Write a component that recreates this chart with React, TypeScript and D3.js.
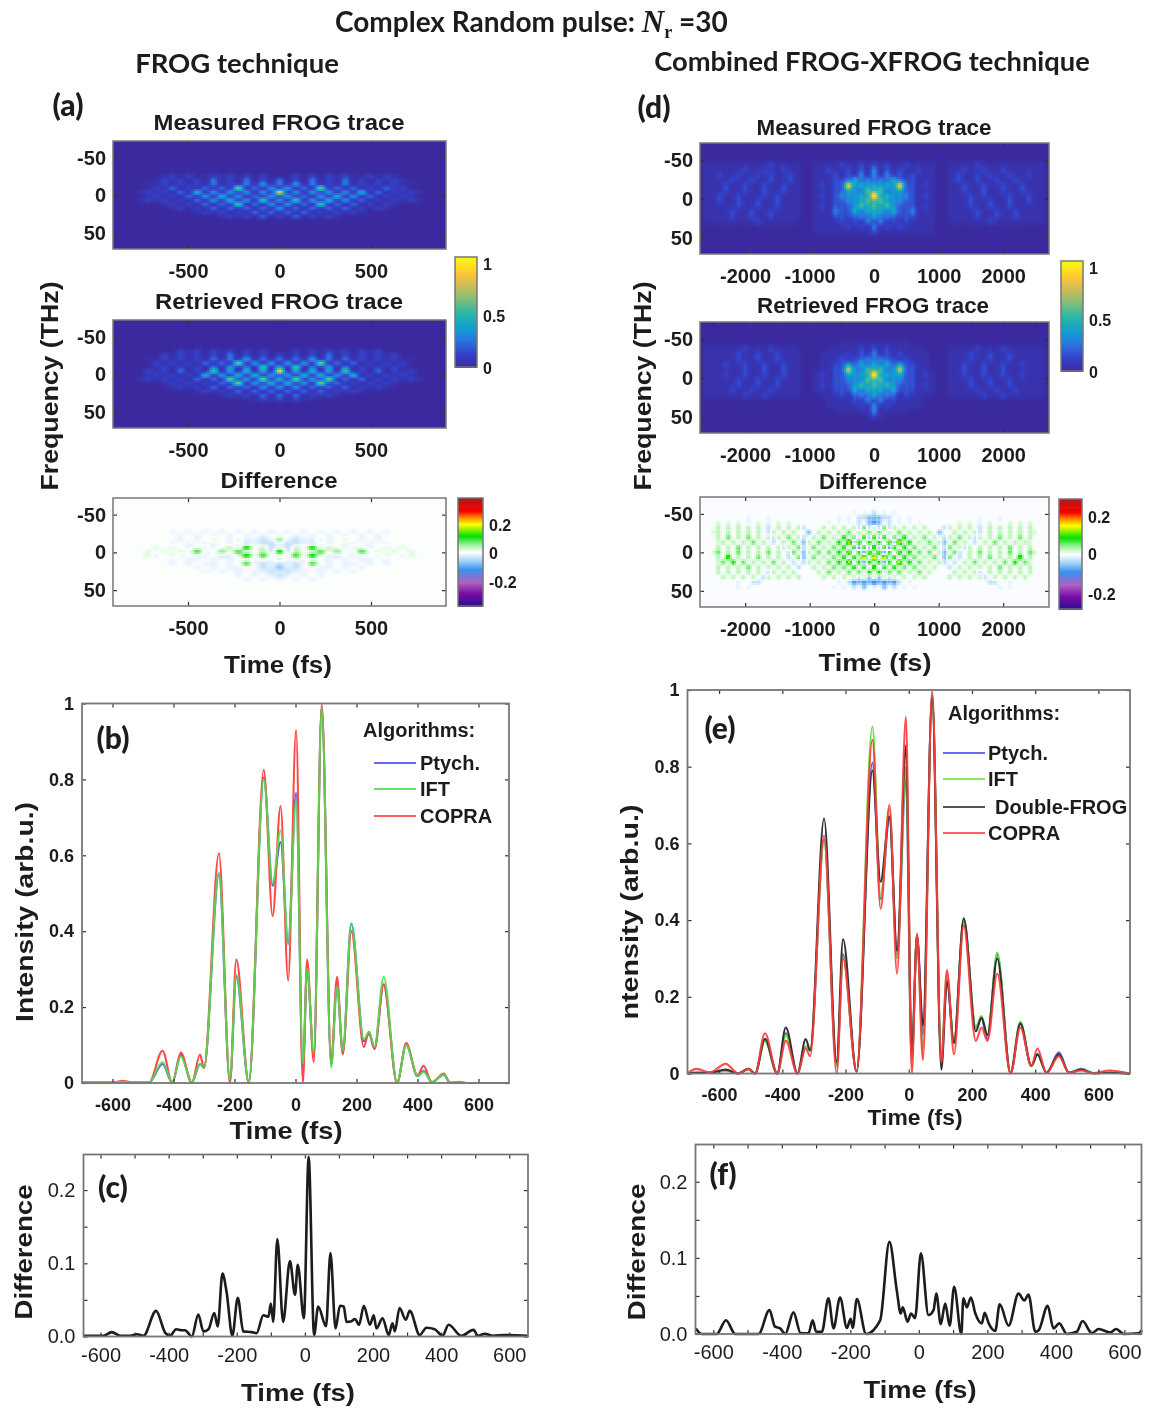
import React, { useEffect, useRef } from "react";
import * as d3 from "d3";

// pulse intensity, panel (b)
const bTimes = [-700,-600,-567,-530,-480,-436,-404,-376,-340,-313,-300,-251,-215,-194,-153,-104,-75,-49,-24,2,24,38,60,86,117,136,155,183,224,241,259,289,333,363,400,420,447,486,507,535,560,700];
const bPtych = [.001,.001,.002,.001,.001,.05,.001,.075,.001,.05,.04,.55,.005,.28,.001,.805,.52,.635,.37,.765,.03,.30,.07,.99,.05,.26,.08,.42,.11,.13,.09,.26,.001,.10,.018,.032,.002,.022,.001,.002,0,0];
const bIft = [.001,.001,.003,.001,.001,.055,.002,.07,.002,.05,.04,.555,.01,.285,.002,.80,.525,.665,.365,.745,.05,.30,.08,.99,.04,.255,.085,.42,.115,.135,.095,.28,.002,.10,.018,.03,.003,.022,.002,.002,0,0];
const bCopra = [.001,.001,.006,.001,.001,.085,0,.08,0,.075,.04,.605,0,.325,0,.825,.44,.73,.27,.93,0,.325,.055,1,.05,.28,.075,.40,.095,.135,.09,.26,0,.105,.02,.045,.002,.025,0,.003,0,0];

// pulse intensity, panel (e)
const eTimes = [-700,-671,-629,-579,-539,-507,-486,-455,-416,-389,-352,-326,-312,-268,-228,-208,-165,-115,-89,-61,-37,-9,9.5,26,45,74,103,121,143,174,212,230,249,280,322,353,388,407,436,475,507,546,583,636,700];
const ePtych = [.001,.002,.002,.008,0,.012,0,.09,0,.105,0,.07,.06,.61,.02,.31,.005,.81,.455,.665,.31,.77,.03,.36,.10,.99,.03,.245,.08,.40,.12,.145,.09,.31,.001,.13,.02,.05,.002,.055,.002,.012,.001,.002,0];
const eIft = [.001,.002,.002,.008,0,.012,0,.085,0,.10,0,.07,.06,.605,.02,.305,.005,.905,.46,.69,.30,.80,.03,.36,.06,.99,.04,.26,.08,.40,.12,.15,.10,.315,.001,.135,.02,.05,.002,.05,.002,.01,.001,.002,0];
const eDouble = [.001,.002,.002,.01,0,.012,0,.09,0,.12,0,.09,.06,.665,.03,.35,.005,.79,.50,.67,.32,.855,.05,.36,.125,.98,.01,.24,.08,.405,.11,.145,.10,.30,.001,.13,.02,.05,.002,.05,.002,.01,.001,.002,0];
const eCopra = [.001,.012,.003,.025,0,.012,0,.105,0,.085,0,.065,.045,.62,0,.30,.005,.87,.43,.70,.26,.93,0,.365,.035,1,.03,.27,.05,.385,.085,.12,.085,.26,0,.12,.02,.065,.002,.045,.002,.008,.001,.008,0];

// difference curves, panels (c) and (f)
const cTimes = [-650,-591,-567,-542,-513,-493,-474,-437,-410,-396,-378,-362,-352,-332,-313,-298,-283,-266,-256,-242,-230,-213,-197,-181,-156,-142,-122,-107,-100,-93,-81,-64,-44,-29,-21,-3,11,27,39,62,75,90,103,114,122,137,147,159,173,191,202,210,228,246,257,264,278,296,308,337,357,381,404,422,459,495,508,528,552,586,655];
const cDiff = [.001,.001,.006,.001,.001,.003,.001,.035,.005,.001,.010,.0086,.0086,0,.030,.007,.010,.032,.0136,.086,.061,.001,.053,.007,.006,.0045,.029,.027,.045,.020,.133,.020,.103,.057,.098,.025,.245,.002,.041,.014,.114,.011,.042,.041,.020,.021,.024,.016,.042,.016,.029,.011,.025,.002,.018,.007,.039,.023,.035,.002,.012,.010,.001,.016,.001,.009,.001,.0036,.001,.002,.001];
const fTimes = [-651,-634,-590,-563,-536,-468,-436,-420,-405,-390,-366,-345,-322,-310,-300,-283,-264,-249,-230,-210,-199,-193,-181,-154,-113,-86,-64,-53,-47,-33,-23,-11,6,28,43,51,64,77,90,103,124,130,140,152,165,184,192,204,223,236,262,291,308,320,340,350,376,393,410,432,461,478,505,525,559,576,598,642,651];
const fDiff = [.0074,0,0,.018,0,0,.0315,.0096,.0074,0,.0284,.001,.001,.018,.003,.003,.047,.0074,.048,.008,.020,.008,.046,0,.018,.121,.056,.027,.035,.016,.027,.021,.106,.025,.0315,.053,.013,.040,.011,.062,0,.047,.035,.048,.027,.014,.028,.014,.004,.039,.011,.053,.044,.052,.003,.005,.037,.0074,.014,0,.003,.017,.001,.0066,.002,.0066,0,.001,.005];

// FROG traces, one half in time (first char = t 0, mirrored), rows top to bottom
// '.' 0, ',' 0.025, digit n = n/10
const traceAMeasured = [
  "..1.1.1,1,.1.1,..",
  "2.1.2.1.2.1.1,1,.",
  "2,3,2,1,2,1,1,1.,",
  ".3.2.6.2.2.1.2,1.",
  "8.3.3.3.3.4.2.1,1,",
  ".3.2.3.4.3.2.1,1,",
  "3.5.3.4.3.2.1.1,1,",
  ".3.2.5.2.2.1.1,..",
  "3.2.2.2.2.1.1,...",
  ".2.2.1.1,1,......",
  "1.2.1,1,.........",
];
const traceARetrieved = [
  "..1.1.1,1.1,1....",
  "1.1.1.2.1.1,1,1..",
  "2,2,3,2,2,1,1,1.,",
  ".3.3.6.2.2.1.1,1.",
  "3.5.2.3.2.1,1,1,.",
  "8.3.4.3.5.1.2.1,1",
  ".3.4.4.3.4.1.1,1,",
  "4.6.3.6.2.2.1,1,1,",
  ".4.3.6.2.1.1,1,..",
  "3.3.2.2.2.1,1,...",
  ".2.2.2.1,1,......",
  "2.2.1,1,.........",
  "1,1,,............",
];
const traceDMeasured = [
  "1,1,,1,,,,.." + ",,,,1,,,,,,,,,,",
  "2,1,1,,1,,.." + ",,1,,1,,1,,,,,,",
  "2,2,1,1,,,.." + ",1,,1,1,,1,,1,,",
  "1213111,,,.." + ",1,,1,,1,,1,,,,",
  "3232711,1,.." + ",,1,,1,,1,,1,,,",
  "2412211,,,.." + ",,1,,1,,1,,1,,,",
  "8232221,1,.." + ",,,1,1,,,1,,1,,",
  "2422211,,,.." + ",,,1,,1,,1,,1,,",
  "4242111,1,.." + ",,,1,,1,,1,,,,,",
  "2313112,,,.." + ",,,,1,,1,,1,,,,",
  "3121111,,,.." + ",,,,1,,1,,1,,,,",
  ",2,1,1,,,,.." + ",,,,,,1,,,,,,,,",
  "2,1,1,,,,,..",
  "1,,,,,,,,,..",
];
const traceDRetrieved = [
  ",,,,,,......" + "...............",
  "1,1,,,,,...." + ",,,,1,,,1,,,,,,",
  "2,1,1,,,,..." + ",,,1,,1,,1,,,,,",
  "1211,1,,,..." + ",,,1,,1,,1,,,,,",
  "3131211,,..." + ",,1,,1,,1,,1,,,",
  "2412611,,..." + ",,1,,1,,1,,,,,,",
  "8232211,1,.." + ",,1,,1,,1,,1,,,",
  "2412211,,,.." + ",,,1,,1,,1,,,,,",
  "4242111,1,.." + ",,,1,,1,,1,,,,,",
  "2313111,,,.." + ",,,,1,,1,,1,,,,",
  "3121,1,,,..." + ",,,,,1,,1,,,,,,",
  ",2,1,,,,...." + "...............",
  "2,1,,,,,....",
  "2,,,,,......",
  "1,..........",
];

// difference maps: '.' 0, ',' 0.015, ';' -0.012, digit n = 0.03 n, a-e = -0.03 .. -0.15
const diffA = [
  ".;.;.;.;.;.;.;...",
  ";.;.;.;.;.;.;....",
  "2;a;;,;.,.;.;....",
  ";aa;a.;.;;.;.;...",
  ";a1.4a1.;,.;.,.,",
  "4a1.;3.2.;3.,.,.,",
  ";.3.4.;a.;;.;,.;,",
  "1;.;;.;.;.;;.;...",
  "a;a;3.;.;;.;.;...",
  "b;a.;;;.;.;......",
  ";a;;.;.;.;.......",
  "a;.;.;...........",
  ";.;.;............",
];
const diffD = [
  "a.;.;.........." + "....................",
  "bbaa.;.;......." + "......;...;.........",
  "cb.a.;.;.;....." + "..,.,.;.,.;.,.,.,...",
  "1a2a1.1.1.1...a" + "1.1.1.a.1.1.1.1.1...",
  ".2.1.2.1.1.1.b." + ".1.1.1a.1.1.1.1.1,..",
  "3b3a2.3.1.2.1.a" + "1.2.1a1.1.2.1.2.1...",
  ".3a4b6.3.1.2.1b" + ".2.1.a.1.2.1.1.1,..",
  "4b3c3a3.2.1.2.a" + "2.1a1.1.1.1.2.1.1...",
  ".4c3a4.3.2.2.1b" + ".2a.1.2.1.1.2.1.2,..",
  "6a6.3a3.2.1.2.b" + "2.a.1.1.2.1.1.4.1...",
  ".3c3a5.3.2.1.1a" + ".a.1.2.1.1.2.3.2,..",
  "4a3.3.2.2.1.1.." + "a.1.1.1.1.2.1.1.1...",
  ".3a2.2.1.2.1..." + ".1.1.1a.1.1.1.1.1...",
  "1b1a1.1;1.1...." + "1.1.1.1a.1.1.1.1....",
  "dbcbca.;......." + "........aa..;.......",
  ";.b.a.;.;......" + "..........;.;.......",
];

const parulaStops = [0, .12, .25, .36, .5, .63, .75, .86, 1];
const parulaColors = ["#3a2b9f", "#3340c8", "#2a78e0", "#0f9fd0", "#2eb7a4", "#87bf77", "#d1bb59", "#fec832", "#f9fb0e"];
const diffStops = [0, .12, .22, .34, .42, .5, .57, .65, .76, .82, .88, 1];
const diffColors = ["#2b0a8f", "#7a10a8", "#b060c0", "#3a90f0", "#a0d0fa", "#ffffff", "#a0f0a0", "#00e000", "#ffff00", "#ff9000", "#ff0000", "#b01818"];

const FRAME = "#777777";
const INK = "#1c1c1c";
const SANS = "'Liberation Sans', Arial, sans-serif";
const LATO = "Lato, sans-serif";

const traceChar = (c: string) => (c === "." ? 0 : c === "," ? 0.025 : +c / 10);
const diffChar = (c: string) => {
  if (c === ".") return 0;
  if (c === ",") return 0.015;
  if (c === ";") return -0.012;
  if (c >= "a") return -0.03 * (c.charCodeAt(0) - 96);
  return 0.03 * +c;
};

function addText(svg, x, y, str, opts: any = {}) {
  const { size = 20, weight = "bold", anchor = "middle", family = SANS, rotate = 0, fill = INK, length = 0 } = opts;
  const t = svg.append("text")
    .attr("transform", `translate(${x},${y}) rotate(${rotate})`)
    .attr("dy", "0.35em")
    .attr("text-anchor", anchor)
    .attr("font-family", family)
    .attr("font-size", size)
    .attr("font-weight", weight)
    .attr("fill", fill)
    .text(str);
  if (length) t.attr("textLength", length).attr("lengthAdjust", "spacingAndGlyphs");
  return t;
}

function drawAxes(svg, x, y, xTicks, yTicks, o) {
  const [x0, x1] = x.range();
  const y0 = d3.min(y.range()) as number;
  const y1 = d3.max(y.range()) as number;
  const size = o.size ?? 20;
  const weight = o.weight ?? "bold";
  const fill = o.fill ?? INK;
  const xLabel = o.xLabel ?? ((d) => String(d));
  const yLabel = o.yLabel ?? ((d) => String(d));
  const style = (g) => {
    g.select(".domain").remove();
    g.selectAll("line").attr("stroke", "#333").attr("stroke-width", 1.2);
    g.selectAll("text").attr("font-family", SANS).attr("font-size", size).attr("font-weight", weight).attr("fill", fill);
  };
  svg.append("g").attr("transform", `translate(0,${y1})`)
    .call(d3.axisBottom(x).tickValues(xTicks).tickSizeInner(-4).tickSizeOuter(0).tickPadding(o.xPad).tickFormat(xLabel))
    .call(style);
  svg.append("g").attr("transform", `translate(0,${y0})`)
    .call(d3.axisTop(x).tickValues(o.xTopTicks ?? xTicks).tickSizeInner(-4).tickSizeOuter(0).tickFormat(() => ""))
    .call(style);
  svg.append("g").attr("transform", `translate(${x0},0)`)
    .call(d3.axisLeft(y).tickValues(yTicks).tickSizeInner(-4).tickSizeOuter(0).tickPadding(o.yPad).tickFormat(yLabel))
    .call(style);
  svg.append("g").attr("transform", `translate(${x1},0)`)
    .call(d3.axisRight(y).tickValues(yTicks).tickSizeInner(-4).tickSizeOuter(0).tickFormat(() => ""))
    .call(style);
  svg.append("rect")
    .attr("x", x0).attr("y", y0).attr("width", x1 - x0).attr("height", y1 - y0)
    .attr("fill", "none").attr("stroke", FRAME).attr("stroke-width", o.frameWidth ?? 1.8);
}

function heatPanel(svg, o) {
  const x = d3.scaleLinear().domain(o.tDomain).range([o.x0, o.x1]);
  const y = d3.scaleLinear().domain([-72, 71]).range([o.y0, o.y1]);
  const colour = d3.scaleLinear<string>().domain(o.stops).range(o.colours).clamp(true);
  const toFrac = d3.scaleLinear().domain(o.vDomain).range([0, 1]);

  // matrix chars become spots, mirrored in time
  const spots: number[][] = [];
  o.rows.forEach((row, r) => {
    row.split("").forEach((c, k) => {
      const v = o.parse(c);
      if (!v) return;
      const f = o.fCentre + (r - o.centreRow) * o.cellF;
      spots.push([k * o.cellT, f, v]);
      if (k > 0) spots.push([-k * o.cellT, f, v]);
    });
  });
  const sx = o.sigma * Math.abs(x(o.cellT) - x(0));
  const sy = (o.sigmaY ?? o.sigma) * Math.abs(y(o.cellF) - y(0));
  const pix = spots.map(([t, f, v]) => [x(t), y(f), v]);

  const cells: any[] = [];
  for (let py = o.y0; py < o.y1; py += 2) {
    for (let px = o.x0; px < o.x1; px += 2) {
      let v = 0;
      for (const [qx, qy, a] of pix) {
        const dx = (px + 1 - qx) / sx;
        const dy = (py + 1 - qy) / sy;
        const e = dx * dx + dy * dy;
        if (e < 16) v += a * Math.exp(-e / 2);
      }
      if (Math.abs(v) > o.floor) cells.push({ px, py, v });
    }
  }

  svg.append("rect")
    .attr("x", o.x0).attr("y", o.y0).attr("width", o.x1 - o.x0).attr("height", o.y1 - o.y0)
    .attr("fill", o.background);
  svg.append("g").attr("shape-rendering", "crispEdges")
    .selectAll("rect").data(cells).join("rect")
    .attr("x", (d) => d.px).attr("y", (d) => d.py)
    .attr("width", 2).attr("height", 2)
    .attr("fill", (d) => colour(toFrac(d.v)));

  drawAxes(svg, x, y, o.tTicks, [-50, 0, 50], { xPad: 15, yPad: 7, xTopTicks: o.tTopTicks, frameWidth: 1.5 });
}

function colourBar(svg, o) {
  const colour = d3.scaleLinear<string>().domain(o.stops).range(o.colours);
  const pos = d3.scaleLinear().domain([0, 1]).range([o.y1, o.y0]);
  svg.append("g").attr("shape-rendering", "crispEdges")
    .selectAll("rect").data(d3.range(0, 1, 1 / (o.y1 - o.y0))).join("rect")
    .attr("x", o.x0).attr("width", o.x1 - o.x0)
    .attr("y", (d) => pos(d) - 1).attr("height", 1.5)
    .attr("fill", (d) => colour(d));
  svg.append("rect").attr("x", o.x0).attr("y", o.y0).attr("width", o.x1 - o.x0).attr("height", o.y1 - o.y0)
    .attr("fill", "none").attr("stroke", FRAME).attr("stroke-width", 1.5);
  o.labels.forEach(([s, ly]) => addText(svg, o.x1 + 6, ly, s, { anchor: "start", size: 16 }));
}

function linePanel(svg, o) {
  const x = d3.scaleLinear().domain(o.tDomain).range([o.x0, o.x1]);
  const y = d3.scaleLinear().domain(o.vDomain).range([o.y1, o.y0]);
  const line = d3.line<number>()
    .x((_, i) => x(o.times[i]))
    .y((d) => y(d))
    .curve(d3.curveMonotoneX);
  o.series.forEach((s) => {
    svg.append("path").attr("d", line(s.values)).attr("fill", "none")
      .attr("stroke", s.colour).attr("stroke-width", o.lineWidth).attr("stroke-opacity", s.opacity ?? 1);
  });
  drawAxes(svg, x, y, o.xTicks, o.yTicks, o.axis);
}

function legend(svg, o) {
  addText(svg, o.titleX, o.titleY, "Algorithms:", { anchor: "start", size: o.size });
  o.items.forEach((it) => {
    svg.append("line").attr("x1", o.lineX0).attr("x2", o.lineX1).attr("y1", it.y).attr("y2", it.y)
      .attr("stroke", it.colour).attr("stroke-width", 2.2);
    addText(svg, it.x ?? o.textX, it.y, it.name, { anchor: "start", size: o.size });
  });
}

function FrogFigure() {
  const chart = useRef<SVGSVGElement>(null);

  useEffect(() => {
    const root = d3.select(chart.current);
    root.selectAll("*").remove();
    root.append("defs").append("filter").attr("id", "soft")
      .attr("x", "0").attr("y", "0").attr("width", "100%").attr("height", "100%")
      .append("feGaussianBlur").attr("stdDeviation", 0.6);
    const svg = root.append("g").attr("filter", "url(#soft)");
    svg.append("rect").attr("width", 1154).attr("height", 1409).attr("fill", "#fff");

    // headings
    const title = addText(svg, 335, 22, null, { anchor: "start", size: 28, family: LATO });
    title.append("tspan").text("Complex Random pulse: ");
    title.append("tspan").attr("font-family", "'Liberation Serif', serif").attr("font-style", "italic").attr("font-size", 31).text("N");
    title.append("tspan").attr("font-family", "'Liberation Serif', serif").attr("font-size", 18).attr("dy", 6).text("r");
    title.append("tspan").attr("dy", -6).text(" =30");
    addText(svg, 237, 63, "FROG technique", { size: 27.5, family: LATO });
    addText(svg, 872, 61, "Combined FROG-XFROG technique", { size: 27.3, family: LATO });

    const panelLetter = (x, y, s) => addText(svg, x, y, s, { size: 30, weight: 900, family: LATO });
    panelLetter(68, 105, "(a)");
    panelLetter(654, 107, "(d)");
    panelLetter(113, 738, "(b)");
    panelLetter(113, 1187, "(c)");
    panelLetter(720, 728, "(e)");
    panelLetter(723, 1174, "(f)");

    // left column traces
    const leftCol = { x0: 113, x1: 446, tDomain: [-910, 910], tTicks: [-500, 0, 500], cellT: 45, cellF: 5.3, sigma: 0.42, sigmaY: 0.5 };
    const parula = { stops: parulaStops, colours: parulaColors, vDomain: [0, 1], parse: traceChar, background: parulaColors[0], floor: 0.006 };
    heatPanel(svg, { ...leftCol, ...parula, y0: 141, y1: 249, rows: traceAMeasured, centreRow: 4, fCentre: -4 });
    heatPanel(svg, { ...leftCol, ...parula, y0: 320, y1: 428, rows: traceARetrieved, centreRow: 5, fCentre: -4 });
    heatPanel(svg, { ...leftCol, stops: diffStops, colours: diffColors, vDomain: [-0.386, 0.386], parse: diffChar, background: "#fbfefb", floor: 0.002, y0: 498, y1: 606, rows: diffA, centreRow: 5, fCentre: -1 });

    addText(svg, 279, 122, "Measured FROG trace", { length: 251, size: 22 });
    addText(svg, 279, 301, "Retrieved FROG trace", { length: 248, size: 22 });
    addText(svg, 279, 480, "Difference", { length: 117, size: 22 });
    addText(svg, 278, 665, "Time (fs)", { length: 108, size: 24 });
    addText(svg, 50, 386, "Frequency (THz)", { rotate: -90, length: 209, size: 24 });

    colourBar(svg, { x0: 455, x1: 477, y0: 257, y1: 367, stops: parulaStops, colours: parulaColors, labels: [["1", 264], ["0.5", 316], ["0", 368]] });
    colourBar(svg, { x0: 458, x1: 483, y0: 498, y1: 606, stops: diffStops, colours: diffColors, labels: [["0.2", 525], ["0", 553], ["-0.2", 582]] });

    // right column traces
    const rightCol = { x0: 700, x1: 1049, tDomain: [-2700, 2710], tTicks: [-2000, -1000, 0, 1000, 2000], cellT: 100, cellF: 6.6, sigma: 0.42, sigmaY: 0.6 };
    heatPanel(svg, { ...rightCol, ...parula, y0: 143, y1: 254, rows: traceDMeasured, centreRow: 6, fCentre: -4 });
    heatPanel(svg, { ...rightCol, ...parula, y0: 322, y1: 433, rows: traceDRetrieved, centreRow: 6, fCentre: -4, tTopTicks: d3.range(-2500, 2501, 500) });
    heatPanel(svg, { ...rightCol, stops: diffStops, colours: diffColors, vDomain: [-0.29, 0.29], parse: diffChar, background: "#fafcff", floor: 0.002, y0: 497, y1: 607, rows: diffD, centreRow: 8, fCentre: 0, cellT: 78, cellF: 6.46, sigma: 0.38, sigmaY: 0.38 });

    addText(svg, 874, 127, "Measured FROG trace", { length: 235, size: 22 });
    addText(svg, 873, 305, "Retrieved FROG trace", { length: 232, size: 22 });
    addText(svg, 873, 481, "Difference", { length: 108, size: 22 });
    addText(svg, 875, 663, "Time (fs)", { length: 113, size: 24 });
    addText(svg, 643, 386, "Frequency (THz)", { rotate: -90, length: 209, size: 24 });

    colourBar(svg, { x0: 1061, x1: 1083, y0: 261, y1: 371, stops: parulaStops, colours: parulaColors, labels: [["1", 268], ["0.5", 320], ["0", 372]] });
    colourBar(svg, { x0: 1059, x1: 1082, y0: 499, y1: 609, stops: diffStops, colours: diffColors, labels: [["0.2", 517], ["0", 554], ["-0.2", 594]] });

    // intensity panels
    const intensityTicks = [0, 0.2, 0.4, 0.6, 0.8, 1];
    const timeTicks = [-600, -400, -200, 0, 200, 400, 600];
    linePanel(svg, {
      x0: 82, x1: 509, y0: 703.5, y1: 1083, tDomain: [-700, 700], vDomain: [0, 1],
      times: bTimes, xTicks: timeTicks, yTicks: intensityTicks, lineWidth: 2.1,
      series: [
        { values: bPtych, colour: "#5a5aee" },
        { values: bCopra, colour: "#ff4a4a" },
        { values: bIft, colour: "#4ce04c", opacity: 0.85 },
      ],
      axis: { size: 18, xPad: 15, yPad: 8 },
    });
    linePanel(svg, {
      x0: 687.5, x1: 1130, y0: 690, y1: 1073.5, tDomain: [-700, 700], vDomain: [0, 1],
      times: eTimes, xTicks: timeTicks, yTicks: intensityTicks, lineWidth: 2.1,
      series: [
        { values: ePtych, colour: "#5a5aee" },
        { values: eIft, colour: "#66dd44" },
        { values: eDouble, colour: "#333333" },
        { values: eCopra, colour: "#ff3b3b", opacity: 0.9 },
      ],
      axis: { size: 18, xPad: 15, yPad: 8 },
    });
    addText(svg, 286, 1131, "Time (fs)", { length: 113, size: 24 });
    addText(svg, 915, 1117, "Time (fs)", { length: 95, size: 22 });
    addText(svg, 25, 912, "Intensity (arb.u.)", { rotate: -90, length: 220, size: 24 });
    addText(svg, 630, 912, "ntensity (arb.u.)", { rotate: -90, length: 215, size: 24 });

    legend(svg, {
      titleX: 363, titleY: 730, size: 20, lineX0: 374, lineX1: 416, textX: 420,
      items: [
        { name: "Ptych.", y: 763, colour: "#6a6aee" },
        { name: "IFT", y: 789, colour: "#5ee85e" },
        { name: "COPRA", y: 816, colour: "#ff6060" },
      ],
    });
    legend(svg, {
      titleX: 948, titleY: 713, size: 20, lineX0: 943, lineX1: 985, textX: 988,
      items: [
        { name: "Ptych.", y: 753, colour: "#6a6aee" },
        { name: "IFT", y: 779, colour: "#8ee85e" },
        { name: "Double-FROG", y: 807, colour: "#555555", x: 995 },
        { name: "COPRA", y: 833, colour: "#ff6060" },
      ],
    });

    // difference curves
    const diffTimeTicks = d3.range(-600, 601, 100);
    const diffAxis = {
      size: 20, weight: "normal", fill: "#1f1f1f", xPad: 11, yPad: 8,
      xLabel: (d) => (d % 200 === 0 ? String(d) : ""),
      yLabel: (d) => (Math.round(d * 100) % 10 === 0 ? d.toFixed(1) : ""),
    };
    const diffYTicks = [0, 0.05, 0.1, 0.15, 0.2];
    linePanel(svg, {
      x0: 83.5, x1: 528, y0: 1154.5, y1: 1336.5, tDomain: [-650, 655], vDomain: [0, 0.2486],
      times: cTimes, xTicks: diffTimeTicks, yTicks: diffYTicks, lineWidth: 2.6,
      series: [{ values: cDiff, colour: "#1a1a1a" }], axis: diffAxis,
    });
    linePanel(svg, {
      x0: 695.5, x1: 1141.5, y0: 1144.5, y1: 1334, tDomain: [-652, 650], vDomain: [0, 0.249],
      times: fTimes, xTicks: diffTimeTicks, yTicks: diffYTicks, lineWidth: 2.6,
      series: [{ values: fDiff, colour: "#1a1a1a" }], axis: diffAxis,
    });
    addText(svg, 298, 1393, "Time (fs)", { length: 114, size: 24 });
    addText(svg, 920, 1390, "Time (fs)", { length: 113, size: 24 });
    addText(svg, 24, 1252, "Difference", { rotate: -90, length: 135, size: 24 });
    addText(svg, 637, 1252, "Difference", { rotate: -90, length: 137, size: 24 });

    // effect cleanup
    return () => {
      root.selectAll("*").remove();
    };
  }, []);

  return <svg ref={chart} width={1154} height={1409} style={{ position: "absolute", left: 0, top: 0 }}></svg>;
}

export default function App() {
  return <FrogFigure />;
}
